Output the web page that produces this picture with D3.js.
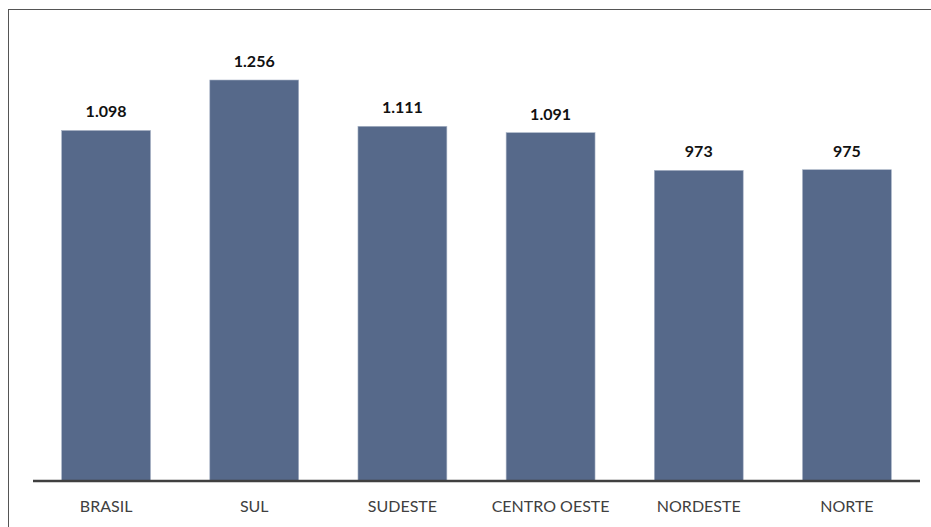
<!DOCTYPE html>
<html><head><meta charset="utf-8">
<script src="https://cdn.jsdelivr.net/npm/d3@7/dist/d3.min.js"></script>
<style>body{margin:0;background:#fff}svg{display:block}</style>
</head><body>
<script>
const categories = ["BRASIL","SUL","SUDESTE","CENTRO OESTE","NORDESTE","NORTE"];
const values = [1098,1256,1111,1091,973,975];
const valueLabels = ["1.098","1.256","1.111","1.091","973","975"];

const W = 931, H = 527;
const svg = d3.select("body").append("svg").attr("width",W).attr("height",H);
svg.append("rect").attr("x",8.5).attr("y",9.5).attr("width",940).attr("height",540)
  .attr("fill","#fff").attr("stroke","#555").attr("stroke-width",1);

const x = d3.scaleBand().domain(categories).range([32,921]).paddingInner(0.4).paddingOuter(0.2);
const y = d3.scaleLinear().domain([0,1256]).range([481,80]);

svg.selectAll("rect.bar").data(values).enter().append("rect").attr("class","bar")
  .attr("x",(d,i)=>x(categories[i])).attr("width",x.bandwidth())
  .attr("y",d=>y(d)).attr("height",d=>y(0)-y(d))
  .attr("fill","#56698a").attr("stroke","#a9b4c6").attr("stroke-width",0.6);

svg.selectAll("text.val").data(values).enter().append("text").attr("class","val")
  .attr("x",(d,i)=>x(categories[i])+x.bandwidth()/2).attr("y",d=>y(d)-13)
  .attr("text-anchor","middle").attr("font-family","Lato, 'Open Sans', sans-serif")
  .attr("font-weight","bold").attr("font-size",16).attr("fill","#111")
  .text((d,i)=>valueLabels[i]);

const axis = d3.axisBottom(x).tickSize(0).tickPadding(20);
const g = svg.append("g").attr("transform","translate(0,481)").call(axis);
g.select(".domain").attr("d","M33,0H920").attr("stroke","#404040").attr("stroke-width",2.5);
g.selectAll("text").attr("font-family","Lato, 'Open Sans', sans-serif").attr("font-size",16).attr("fill","#404040");
</script>
</body></html>
